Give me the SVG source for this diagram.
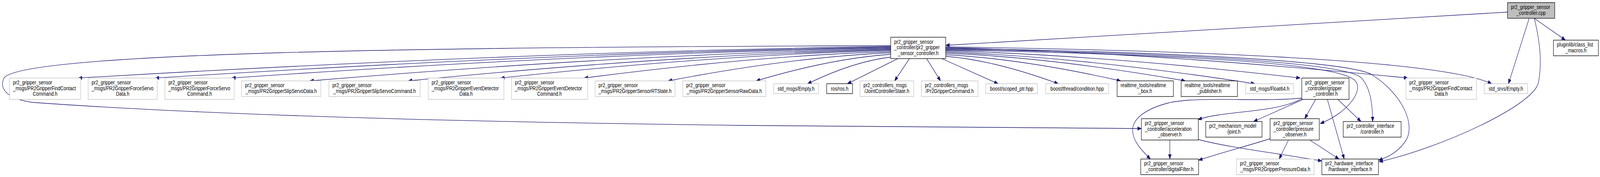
<svg xmlns="http://www.w3.org/2000/svg" width="4947" height="453" viewBox="0 0 4947 453" preserveAspectRatio="none">
<style>
svg{width:100vw;height:100vh;display:block}
rect{fill:#fff;stroke-width:1.33}
.g rect{stroke:#bfbfbf}
.b rect{stroke:#000}
.r rect{fill:#bfbfbf;stroke:#000}
text{font-family:"Liberation Sans",Arial,sans-serif;font-size:14px;fill:#000}
.m{text-anchor:middle}
#edges path{fill:none;stroke:#191970;stroke-width:1.33;marker-end:url(#a)}
</style>
<defs>
<marker id="a" markerUnits="userSpaceOnUse" markerWidth="13" markerHeight="10" refX="12" refY="4.5" orient="auto">
<path d="M0,0 L12,4.5 L0,9 z" fill="#191970" stroke="#191970" stroke-width="1"/>
</marker>
</defs>
<rect x="0" y="0" width="4947" height="453" style="fill:#fff;stroke:none"/>
<g id="edges">
<path d="M4661,31 L2924,116"/>
<path d="M4744,47 L4840,102.7"/>
<path d="M4728,47 L4664,214.3"/>
<path d="M4744,47 C4762,110 4768,160 4757,210 C4745,270 4450,380 4264,414"/>
<path d="M2754,117 C1300,120 60,135 12,200 C-2,226 18,252 100,262 C700,298 1600,314 2300,321 L3529,329"/>
<path d="M2754,119 C1925,128.7 1071,159.4 242,199.7"/>
<path d="M2754,121 C2004,130.4 1230,160.4 480,199.7"/>
<path d="M2754,123 C2081,132 1388,161 716,199.7"/>
<path d="M2754,125 C2161,135 1551,166 958,207"/>
<path d="M2754,127 C2262,136.6 1754,167 1262,207"/>
<path d="M2754,129 C2356,137.5 1946,164.4 1548,199.7"/>
<path d="M2754,132 C2441,140 2119,166 1806,199.7"/>
<path d="M2754,135 C2527,143.6 2293,171 2066,207"/>
<path d="M2754,139 C2617,147 2475,173 2338,207"/>
<path d="M2756,146 C2670,154 2582,180 2497,214.3"/>
<path d="M2776,150 L2620,214.3"/>
<path d="M2812,150 L2766,207"/>
<path d="M2865,150 L2908,207"/>
<path d="M2912,150 L3086,214.3"/>
<path d="M2924,144 C3039,152 3157,179 3272,214.3"/>
<path d="M2924,140 C3102,148 3286,173.5 3465,207"/>
<path d="M2924,136 C3168,144.5 3420,171.5 3665,207"/>
<path d="M2924,133 C3239,142.8 3564,173.7 3880,214.3"/>
<path d="M2924,130 C3286,138.4 3658,164.9 4020,199.7"/>
<path d="M2924,128 C3600,138 4130,160 4188,205 C4222,232 4160,292 4082,316"/>
<path d="M2924,126 C3600,135 4150,158 4207,198 C4235,220 4244,262 4244,311"/>
<path d="M2924,124 C3600,132 4180,156 4243,192 C4335,240 4380,320 4345,362 C4322,390 4290,403 4262,410"/>
<path d="M2924,122 C3395,131 3881,161 4353,199.7"/>
<path d="M2924,120 C3600,128 4450,150 4612,214.3"/>
<path d="M4025,251 C3900,262 3700,245 3610,264 C3550,277 3505,300 3502,330 C3500,360 3530,385 3557,407"/>
<path d="M4025,253 C3940,290 3790,282 3704,306"/>
<path d="M4030,254 L3876,311"/>
<path d="M4068,254 L4034,303.7"/>
<path d="M4104,254 L4156,407"/>
<path d="M4136,254 L4208,311"/>
<path d="M3617,358 L3617,407"/>
<path d="M3705,357 C3800,378 3950,392 4087,412"/>
<path d="M3927,355 C3850,375 3780,390 3706,410"/>
<path d="M3984,358 L3955,407"/>
<path d="M4049,358 L4140,407"/>
</g>
<g id="n_root" class="r"><rect x="4661" y="6.7" width="146" height="40"/><text x="4671.7" y="23.2">pr2_gripper_sensor</text><text class="m" x="4734" y="37.7">_controller.cpp</text></g>
<g id="n_main" class="b"><rect x="2754" y="95.3" width="170" height="54.7"/><text x="2764.7" y="111.8">pr2_gripper_sensor</text><text x="2764.7" y="126.3">_controller/pr2_gripper</text><text class="m" x="2839" y="140.8">_sensor_controller.h</text></g>
<g id="n_plugin" class="b"><rect x="4803" y="102.7" width="139" height="40"/><text x="4813.7" y="119.2">pluginlib/class_list</text><text class="m" x="4872.5" y="133.7">_macros.h</text></g>
<g id="n_fcc" class="g"><rect x="29.5" y="199.7" width="220" height="54.7"/><text x="40.2" y="216.2">pr2_gripper_sensor</text><text x="40.2" y="230.7">_msgs/PR2GripperFindContact</text><text class="m" x="139.5" y="245.2">Command.h</text></g>
<g id="n_fsd" class="g"><rect x="272.6" y="199.7" width="213.4" height="54.7"/><text x="283.3" y="216.2">pr2_gripper_sensor</text><text x="283.3" y="230.7">_msgs/PR2GripperForceServo</text><text class="m" x="379.3" y="245.2">Data.h</text></g>
<g id="n_fsc" class="g"><rect x="510" y="199.7" width="214" height="54.7"/><text x="520.7" y="216.2">pr2_gripper_sensor</text><text x="520.7" y="230.7">_msgs/PR2GripperForceServo</text><text class="m" x="617" y="245.2">Command.h</text></g>
<g id="n_ssd" class="g"><rect x="747" y="207" width="245" height="40"/><text x="757.7" y="223.5">pr2_gripper_sensor</text><text class="m" x="869.5" y="238">_msgs/PR2GripperSlipServoData.h</text></g>
<g id="n_ssc" class="g"><rect x="1017" y="207" width="282" height="40"/><text x="1027.7" y="223.5">pr2_gripper_sensor</text><text class="m" x="1158" y="238">_msgs/PR2GripperSlipServoCommand.h</text></g>
<g id="n_edd" class="g"><rect x="1324" y="199.7" width="234" height="54.7"/><text x="1334.7" y="216.2">pr2_gripper_sensor</text><text x="1334.7" y="230.7">_msgs/PR2GripperEventDetector</text><text class="m" x="1441" y="245.2">Data.h</text></g>
<g id="n_edc" class="g"><rect x="1581.5" y="199.7" width="235.5" height="54.7"/><text x="1592.2" y="216.2">pr2_gripper_sensor</text><text x="1592.2" y="230.7">_msgs/PR2GripperEventDetector</text><text class="m" x="1699" y="245.2">Command.h</text></g>
<g id="n_rts" class="g"><rect x="1840" y="207" width="247" height="40"/><text x="1850.7" y="223.5">pr2_gripper_sensor</text><text class="m" x="1963.5" y="238">_msgs/PR2GripperSensorRTState.h</text></g>
<g id="n_raw" class="g"><rect x="2111" y="207" width="257" height="40"/><text x="2121.7" y="223.5">pr2_gripper_sensor</text><text class="m" x="2239.5" y="238">_msgs/PR2GripperSensorRawData.h</text></g>
<g id="n_stdempty" class="g"><rect x="2392" y="214.3" width="139" height="25.3"/><text class="m" x="2461.5" y="231.8">std_msgs/Empty.h</text></g>
<g id="n_ros" class="b"><rect x="2556" y="214.3" width="80" height="25.3"/><text class="m" x="2596" y="231.8">ros/ros.h</text></g>
<g id="n_jcs" class="g"><rect x="2659" y="207" width="166" height="40"/><text x="2669.7" y="223.5">pr2_controllers_msgs</text><text class="m" x="2742" y="238">/JointControllerState.h</text></g>
<g id="n_pgc" class="g"><rect x="2849" y="207" width="175" height="40"/><text x="2859.7" y="223.5">pr2_controllers_msgs</text><text class="m" x="2936.5" y="238">/Pr2GripperCommand.h</text></g>
<g id="n_scoped" class="g"><rect x="3048" y="214.3" width="160" height="25.3"/><text class="m" x="3128" y="231.8">boost/scoped_ptr.hpp</text></g>
<g id="n_cond" class="g"><rect x="3233" y="214.3" width="195" height="25.3"/><text class="m" x="3330.5" y="231.8">boost/thread/condition.hpp</text></g>
<g id="n_rtbox" class="b"><rect x="3454" y="207" width="174" height="40"/><text x="3464.7" y="223.5">realtime_tools/realtime</text><text class="m" x="3541" y="238">_box.h</text></g>
<g id="n_rtpub" class="b"><rect x="3652" y="207" width="174" height="40"/><text x="3662.7" y="223.5">realtime_tools/realtime</text><text class="m" x="3739" y="238">_publisher.h</text></g>
<g id="n_float" class="g"><rect x="3851" y="214.3" width="149" height="25.3"/><text class="m" x="3925.5" y="231.8">std_msgs/Float64.h</text></g>
<g id="n_gc" class="b"><rect x="4025" y="199.7" width="146" height="54.7"/><text x="4035.7" y="216.2">pr2_gripper_sensor</text><text x="4035.7" y="230.7">_controller/gripper</text><text class="m" x="4098" y="245.2">_controller.h</text></g>
<g id="n_fcd" class="g"><rect x="4347" y="199.7" width="218" height="54.7"/><text x="4357.7" y="216.2">pr2_gripper_sensor</text><text x="4357.7" y="230.7">_msgs/PR2GripperFindContact</text><text class="m" x="4456" y="245.2">Data.h</text></g>
<g id="n_srvs" class="g"><rect x="4589" y="214.3" width="134" height="25.3"/><text class="m" x="4656" y="231.8">std_srvs/Empty.h</text></g>
<g id="n_acc" class="b"><rect x="3529" y="303.7" width="176" height="54.7"/><text x="3539.7" y="320.2">pr2_gripper_sensor</text><text x="3539.7" y="334.7">_controller/acceleration</text><text class="m" x="3617" y="349.2">_observer.h</text></g>
<g id="n_joint" class="b"><rect x="3728" y="311" width="174" height="40"/><text x="3738.7" y="327.5">pr2_mechanism_model</text><text class="m" x="3815" y="342">/joint.h</text></g>
<g id="n_press" class="b"><rect x="3927" y="303.7" width="152" height="54.7"/><text x="3937.7" y="320.2">pr2_gripper_sensor</text><text x="3937.7" y="334.7">_controller/pressure</text><text class="m" x="4003" y="349.2">_observer.h</text></g>
<g id="n_ctrl" class="b"><rect x="4153" y="311" width="179" height="40"/><text x="4163.7" y="327.5">pr2_controller_interface</text><text class="m" x="4242.5" y="342">/controller.h</text></g>
<g id="n_dig" class="b"><rect x="3527" y="407" width="179" height="40"/><text x="3537.7" y="423.5">pr2_gripper_sensor</text><text class="m" x="3616.5" y="438">_controller/digitalFilter.h</text></g>
<g id="n_pdata" class="g"><rect x="3823" y="407" width="240" height="40"/><text x="3833.7" y="423.5">pr2_gripper_sensor</text><text class="m" x="3943" y="438">_msgs/PR2GripperPressureData.h</text></g>
<g id="n_hw" class="b"><rect x="4087" y="407" width="175" height="40"/><text x="4097.7" y="423.5">pr2_hardware_interface</text><text class="m" x="4174.5" y="438">/hardware_interface.h</text></g>
</svg>
